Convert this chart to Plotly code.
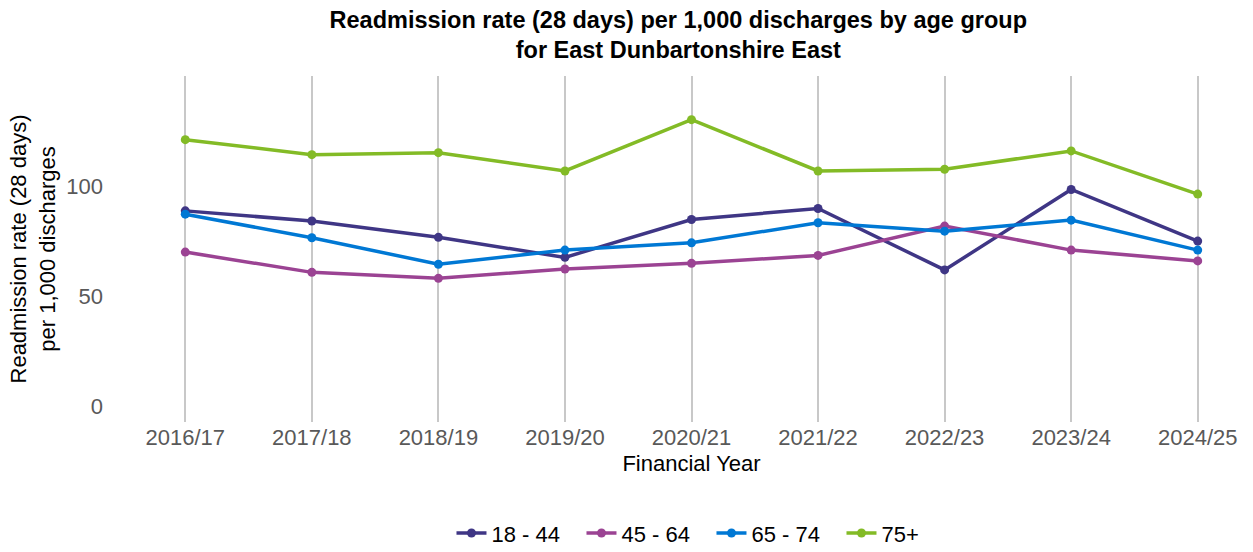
import plotly.graph_objects as go

years = ["2016/17", "2017/18", "2018/19", "2019/20", "2020/21",
         "2021/22", "2022/23", "2023/24", "2024/25"]

age_18_44 = [88.8, 84.2, 76.8, 67.7, 84.9, 89.9, 62.0, 98.5, 75.1]
age_45_64 = [70.1, 60.9, 58.2, 62.4, 65.0, 68.6, 81.9, 71.0, 66.1]
age_65_74 = [87.3, 76.6, 64.6, 71.0, 74.3, 83.4, 79.6, 84.6, 71.0]
age_75_plus = [121.1, 114.3, 115.2, 106.9, 130.2, 106.9, 107.7, 116.0, 96.4]

series_names = ["18 - 44", "45 - 64", "65 - 74", "75+"]
series_values = [age_18_44, age_45_64, age_65_74, age_75_plus]
series_colors = ["#3F3685", "#9B4393", "#0078D4", "#83BB26"]

fig = go.Figure()
for name, vals, col in zip(series_names, series_values, series_colors):
    fig.add_trace(go.Scatter(
        x=years, y=vals, name=name, mode="lines+markers",
        line=dict(color=col, width=3.5),
        marker=dict(color=col, size=9),
    ))

font_family = "Liberation Sans, Arial, sans-serif"

fig.update_layout(
    width=1253, height=552,
    paper_bgcolor="white", plot_bgcolor="white",
    margin=dict(l=141, r=11, t=76, b=130),
    font=dict(family=font_family, size=22, color="#000000"),
    title=dict(
        text="<b>Readmission rate (28 days) per 1,000 discharges by age group<br>for East Dunbartonshire East</b>",
        x=0.488, xref="paper", xanchor="center",
        y=0.950, yref="container", yanchor="middle",
        font=dict(size=23.5, color="#000000", family=font_family),
    ),
    xaxis=dict(
        title=dict(text="Financial Year", font=dict(size=22), standoff=6),
        showgrid=True, gridcolor="#C8C8C8", gridwidth=2,
        tickfont=dict(size=22, color="#595959"),
        range=[-0.35, 8.35], zeroline=False, showline=False,
    ),
    yaxis=dict(
        title=dict(text="Readmission rate (28 days)<br>per 1,000 discharges",
                   font=dict(size=22), standoff=4),
        showgrid=False, zeroline=False, showline=False,
        tickvals=[0, 50, 100],
        tickfont=dict(size=22, color="#595959"),
        ticklabelstandoff=37,
        range=[-7, 150],
    ),
    legend=dict(
        orientation="h", x=0.282, xanchor="left",
        y=0.034, yref="container", yanchor="middle",
        font=dict(size=22, color="#000000"),
        itemwidth=30, entrywidth=85, entrywidthmode="pixels",
    ),
)

fig.write_html("out.html")
